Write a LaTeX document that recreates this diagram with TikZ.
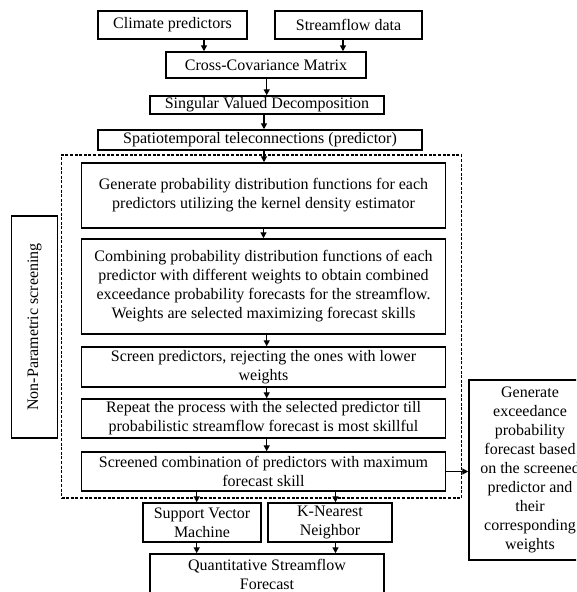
\documentclass[tikz,border=0pt]{standalone}
\usepackage{fontspec}
\setmainfont{Liberation Serif}
\usetikzlibrary{arrows.meta}
\begin{document}
\begin{tikzpicture}[x=1pt,y=-1pt,
  box/.style={draw, line width=1.5pt, inner sep=0pt, align=center,
    font=\fontsize{16}{19}\selectfont, anchor=center},
  arr/.style={line width=1.4pt, -{Triangle[length=6pt,width=6pt]}},
  grp/.style={draw, dash pattern=on 3pt off 1.6pt, line width=1.1pt, inner sep=0pt}
]
\useasboundingbox (0,0) rectangle (576,592);
\clip (0,0) rectangle (576,592);
\fill[white] (0,0) rectangle (576,592);

\node[grp, minimum width=400pt, minimum height=343pt] (grp) at (261.5,326.5) {};

\node[box, minimum width=149pt, minimum height=28pt] (clim) at (172.5,25) {Climate predictors};
\node[box, minimum width=147pt, minimum height=28pt] (strm) at (348.5,25) {Streamflow data};
\node[box, minimum width=200pt, minimum height=26pt] (ccm) at (266,65) {Cross-Covariance Matrix};
\node[box, minimum width=234pt, minimum height=18pt] (svd) at (267,105) {Singular Valued Decomposition};
\node[box, minimum width=324pt, minimum height=20pt] (spt) at (260,140) {Spatiotemporal teleconnections (predictor)};
\node[box, minimum width=364pt, minimum height=65pt] (gen) at (263.5,195.5)
  {Generate probability distribution functions for each\\predictors utilizing the kernel density estimator};
\node[box, minimum width=364pt, minimum height=95pt] (comb) at (263.5,286.5)
  {Combining probability distribution functions of each\\predictor with different weights to obtain combined\\exceedance probability forecasts for the streamflow.\\Weights are selected maximizing forecast skills};
\node[box, minimum width=364pt, minimum height=40pt] (scr) at (263.5,367)
  {Screen predictors, rejecting the ones with lower\\weights};
\node[box, minimum width=364pt, minimum height=39pt] (rep) at (263.5,418.5)
  {Repeat the process with the selected predictor till\\probabilistic streamflow forecast is most skillful};
\node[box, minimum width=364pt, minimum height=39pt] (scd) at (263.5,471.5)
  {Screened combination of predictors with maximum\\forecast skill};
\node[box, rotate=90, minimum width=222pt, minimum height=46pt] (np) at (34.5,327) {Non-Parametric screening};
\node[box, minimum width=118pt, minimum height=39pt] (svm) at (202,522.5) {Support Vector\\Machine};
\node[box, minimum width=124pt, minimum height=39pt] (knn) at (330,522.5) {K-Nearest\\Neighbor};
\node[box, minimum width=234pt, minimum height=40pt] (qsf) at (267,574) {Quantitative Streamflow\\Forecast};
\node[box, minimum width=122pt, minimum height=180pt] (gex) at (530,470)
  {Generate\\exceedance\\probability\\forecast based\\on the screened\\predictor and\\their\\corresponding\\weights};

\coordinate (a1) at (204,0);
\coordinate (a2) at (343,0);
\coordinate (a3) at (266.7,0);
\coordinate (a4) at (264,0);
\coordinate (a5) at (263.5,0);
\coordinate (a6) at (266.7,0);
\coordinate (a7) at (196.7,0);
\coordinate (a8) at (335.5,0);

\draw[arr] (clim.south -| a1) -- (ccm.north -| a1);
\draw[arr] (strm.south -| a2) -- (ccm.north -| a2);
\draw[arr] (ccm.south -| a3) -- (svd.north -| a3);
\draw[arr] (svd.south -| a4) -- (spt.north -| a4);
\draw[arr] (spt.south -| a4) -- (gen.north -| a4);
\draw[arr] (gen.south -| a5) -- (comb.north -| a5);
\draw[arr] (comb.south -| a6) -- (scr.north -| a6);
\draw[arr] (scr.south -| a6) -- (rep.north -| a6);
\draw[arr] (rep.south -| a6) -- (scd.north -| a6);
\draw[arr] (scd.south -| a7) -- (svm.north -| a7);
\draw[arr] (scd.south -| a8) -- (knn.north -| a8);
\draw[arr] (svm.south -| a7) -- (qsf.north -| a7);
\draw[arr] (knn.south -| a8) -- (qsf.north -| a8);
\draw[arr] (scd.east) -- (scd.east -| gex.west);
\end{tikzpicture}
\end{document}
